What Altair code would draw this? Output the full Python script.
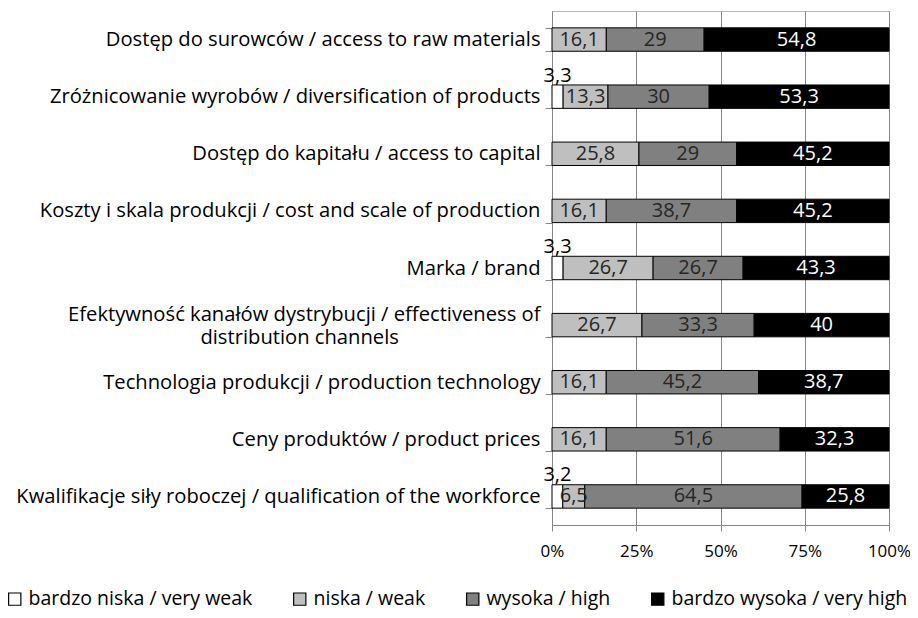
import altair as alt
import pandas as pd

NB = "\u00a0"
ZW = "\u200b"
categories = [
    "Dostęp do surowców / access to raw materials",
    "Zróżnicowanie wyrobów / diversification of products",
    "Dostęp do kapitału / access to capital",
    "Koszty i skala produkcji / cost and scale of production",
    "Marka / brand",
    "Efektywność kanałów dystrybucji / effectiveness of|distribution channels" + NB * 27 + ZW,
    "Technologia produkcji / production technology",
    "Ceny produktów / product prices",
    "Kwalifikacje siły roboczej / qualification of the workforce",
]
series = [
    "bardzo niska / very weak",
    "niska / weak",
    "wysoka / high",
    "bardzo wysoka / very high",
]
v_very_weak = [0, 3.3, 0, 0, 3.3, 0, 0, 0, 3.2]
v_weak = [16.1, 13.3, 25.8, 16.1, 26.7, 26.7, 16.1, 16.1, 6.5]
v_high = [29, 30, 29, 38.7, 26.7, 33.3, 45.2, 51.6, 64.5]
v_very_high = [54.8, 53.3, 45.2, 45.2, 43.3, 40, 38.7, 32.3, 25.8]
colors = ["#ffffff", "#bfbfbf", "#808080", "#000000"]

FONT = "Open Sans"

rows = []
for i, c in enumerate(categories):
    for j, vals in enumerate([v_very_weak, v_weak, v_high, v_very_high]):
        v = vals[i]
        if v <= 0:
            continue
        lab = ("%g" % v).replace(".", ",")
        rows.append({"cat": c, "series": series[j], "ord": j, "value": v, "label": lab})
df = pd.DataFrame(rows)

base = alt.Chart(df).transform_stack(
    stack="value", groupby=["cat"], sort=[alt.SortField("ord")],
    offset="normalize", as_=["x0", "x1"]
).transform_calculate(mid="(datum.x0 + datum.x1) / 2")

y_enc = alt.Y(
    "cat:N", sort=categories, title=None,
    scale=alt.Scale(paddingInner=0.59, paddingOuter=0.295),
    axis=alt.Axis(
        labelExpr="split(datum.label, '|')",
        labelOffset={"condition": {"test": "indexof(datum.label, '|') >= 0", "value": -11}, "value": 0},
        labelFont=FONT, labelFontSize=20.2, labelColor="#000000", labelLimit=700,
        labelPadding=5, tickSize=7, tickBand="extent", tickColor="#868686",
        domainColor="#868686", grid=False, labelLineHeight=23.5,
    ),
)

bars = base.mark_bar(stroke="#000000", strokeWidth=1).encode(
    x=alt.X("x0:Q", scale=alt.Scale(domain=[0, 1]), title=None,
            axis=alt.Axis(format="%", values=[0, 0.25, 0.5, 0.75, 1],
                          labelFont=FONT, labelFontSize=17, labelColor="#000000",
                          labelPadding=12, tickSize=6, tickColor="#868686",
                          domainColor="#868686", gridColor="#868686",
                          labelFlush=False)),
    x2="x1:Q",
    y=y_enc,
    color=alt.Color("series:N", sort=series,
                    scale=alt.Scale(domain=series, range=colors),
                    legend=alt.Legend(
                        title=None, orient="none", direction="horizontal",
                        legendX=-547, legendY=578, symbolType="square",
                        symbolSize=150, symbolStrokeColor="#000000",
                        symbolStrokeWidth=1.2, labelFont=FONT, labelFontSize=19.5,
                        labelColor="#000000", columnPadding=37, labelOffset=4,
                        labelLimit=400,
                    )),
)

inside = base.transform_filter("datum.value >= 5").mark_text(
    font=FONT, fontSize=20, baseline="middle", align="center"
).encode(
    x="mid:Q",
    y=alt.Y("cat:N", sort=categories),
    text="label:N",
    color=alt.condition("datum.ord == 3", alt.value("#ffffff"), alt.value("#262626")),
)

above = base.transform_filter("datum.value < 5").mark_text(
    font=FONT, fontSize=20, baseline="middle", align="center", dy=-21, color="#000000"
).encode(
    x="mid:Q",
    y=alt.Y("cat:N", sort=categories),
    text="label:N",
)

chart = alt.layer(bars, inside, above).properties(
    width=337, height=514,
    autosize=alt.AutoSizeParams(type="none"),
    padding={"left": 544, "top": 3, "right": 21, "bottom": 93},
    background="#ffffff",
).configure_view(stroke="#a6b9d9", strokeWidth=1)

chart.save("out.html", embed_options={"renderer": "svg", "actions": False})
